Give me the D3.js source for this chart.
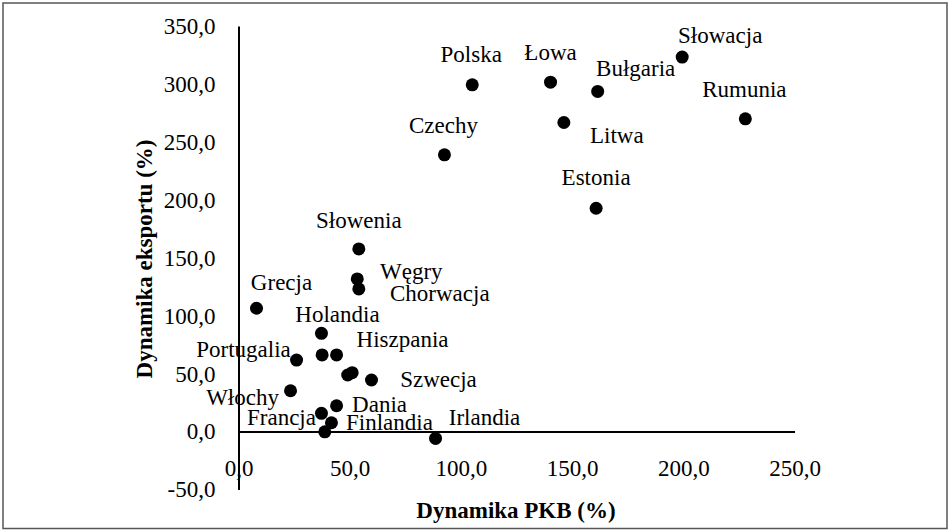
<!DOCTYPE html>
<html>
<head>
<meta charset="utf-8">
<script src="https://cdn.jsdelivr.net/npm/d3@7"></script>
<style>
  body { margin: 0; background: #fff; }
  text { font-family: "Liberation Serif", "Times New Roman", serif; }
</style>
</head>
<body>
<div id="container"></div>
<script>
/* DATA */
const countries = ["Polska", "Łowa", "Słowacja", "Bułgaria", "Rumunia", "Czechy", "Litwa", "Estonia",
  "Słowenia", "Węgry", "Chorwacja", "Grecja", "Holandia", "Hiszpania", "", "Portugalia", "", "",
  "Szwecja", "Włochy", "Dania", "Francja", "Finlandia", "", "Irlandia"];
const pkb = [105.1, 140.3, 199.5, 161.5, 227.9, 92.6, 146.3, 160.8,
  54.1, 53.4, 54.1, 8.1, 37.3, 44.1, 37.6, 26.1, 49.1, 51.1,
  59.8, 23.4, 44.1, 37.3, 41.8, 38.8, 88.6];
const eksport = [299.2, 301.5, 323.2, 293.5, 269.9, 238.8, 266.7, 192.7,
  157.6, 131.7, 123.1, 106.4, 84.8, 66.1, 66.1, 61.7, 48.8, 50.8,
  44.5, 35.2, 22.3, 15.7, 7.6, -0.2, -5.9];
const xTicks = [0, 50, 100, 150, 200, 250];
const yTicks = [-50, 0, 50, 100, 150, 200, 250, 300, 350];

/* CONSTANTS */
const width = 949,
  height = 531,
  radius = 6.5,
  fontSize = 23;

// label offsets (dx, baseline dy) from the dot, in px
const labelOffset = {
  "Polska": [-1, -23], "Łowa": [0, -22], "Słowacja": [38, -14], "Bułgaria": [38, -15],
  "Rumunia": [-1, -22], "Czechy": [-1, -22], "Litwa": [53, 20], "Estonia": [0, -23],
  "Słowenia": [0, -21], "Węgry": [54, 0], "Chorwacja": [81, 12], "Grecja": [25, -18],
  "Holandia": [16, -11], "Hiszpania": [66, -8], "Portugalia": [-53, -3], "Szwecja": [67, 7],
  "Włochy": [-48, 14], "Dania": [43, 6], "Francja": [-40, 12], "Finlandia": [58, 7],
  "Irlandia": [49, -13]
};

const data = countries.map((c, i) => ({ name: c, x: pkb[i], y: eksport[i] }));
const fmt = d => d.toFixed(1).replace(".", ",");

const svg = d3.select("#container")
  .append("svg")
  .attr("width", width)
  .attr("height", height);

// chart frame
svg.append("rect")
  .attr("x", 3).attr("y", 3)
  .attr("width", 944).attr("height", 525.5)
  .attr("fill", "none")
  .attr("stroke", "#555")
  .attr("stroke-width", 1.5);

/* SCALES */
const xScale = d3.scaleLinear().domain([0, 250]).range([238.5, 794.5]);
const yScale = d3.scaleLinear().domain([-50, 350]).range([489.5, 26]);

/* AXES */
const xAxis = svg.append("g")
  .attr("transform", `translate(0,${yScale(0)})`)
  .call(d3.axisBottom(xScale).tickValues(xTicks).tickFormat(fmt).tickSize(0).tickPadding(28));

const yAxis = svg.append("g")
  .attr("transform", `translate(${xScale(0)},0)`)
  .call(d3.axisLeft(yScale).tickValues(yTicks).tickFormat(fmt).tickSize(0).tickPadding(23));

[xAxis, yAxis].forEach(g => {
  g.select(".domain").attr("stroke", "#000").attr("stroke-width", 2);
  g.selectAll("text")
    .attr("fill", "#000")
    .style("font-family", "'Liberation Serif', serif")
    .style("font-size", fontSize + "px");
});

/* POINTS */
svg.selectAll(".point")
  .data(data)
  .join("circle")
  .attr("class", "point")
  .attr("cx", d => xScale(d.x))
  .attr("cy", d => yScale(d.y))
  .attr("r", radius)
  .attr("fill", "#000");

svg.selectAll(".label")
  .data(data.filter(d => d.name))
  .join("text")
  .attr("class", "label")
  .attr("x", d => xScale(d.x) + labelOffset[d.name][0])
  .attr("y", d => yScale(d.y) + labelOffset[d.name][1])
  .attr("text-anchor", "middle")
  .style("font-size", fontSize + "px")
  .attr("fill", "#000")
  .text(d => d.name);

/* AXIS TITLES */
svg.append("text")
  .attr("x", 516)
  .attr("y", 518)
  .attr("text-anchor", "middle")
  .style("font-size", "23px")
  .style("font-weight", "bold")
  .text("Dynamika PKB (%)");

svg.append("text")
  .attr("transform", "translate(152,259) rotate(-90)")
  .attr("text-anchor", "middle")
  .style("font-size", "23px")
  .style("font-weight", "bold")
  .text("Dynamika eksportu (%)");
</script>
</body>
</html>
